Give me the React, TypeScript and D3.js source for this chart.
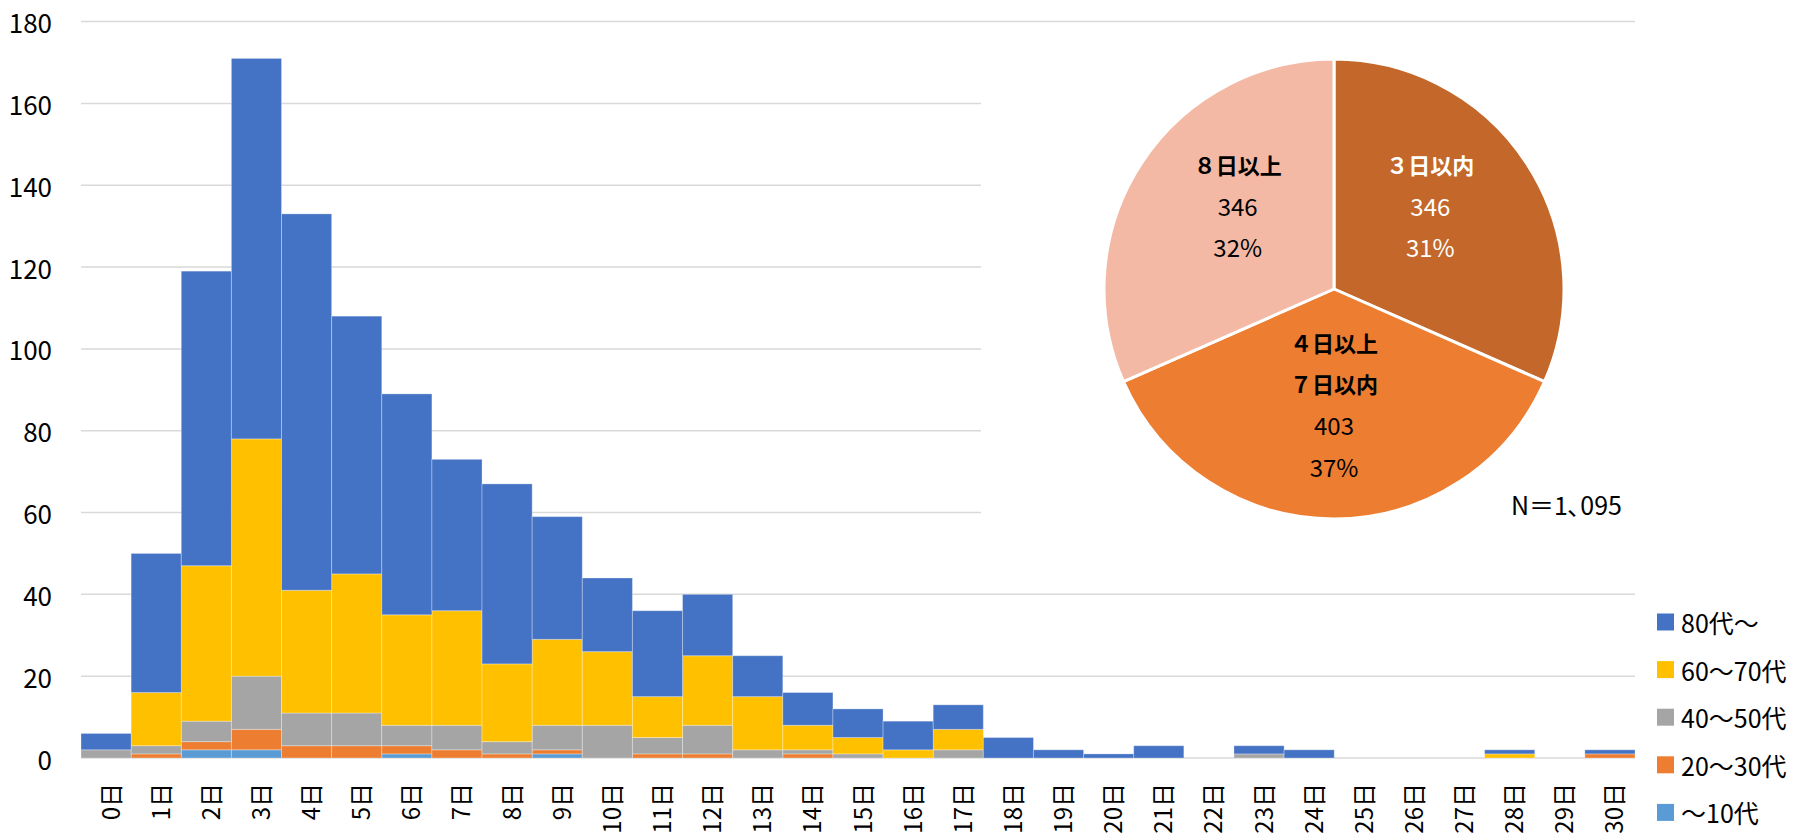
import React from "react";
import * as d3 from "d3";

const days = ["0日","1日","2日","3日","4日","5日","6日","7日","8日","9日","10日","11日","12日","13日","14日","15日","16日","17日","18日","19日","20日","21日","22日","23日","24日","25日","26日","27日","28日","29日","30日"];

const under10 =  [0,0,2,2,0,0,1,0,0,1,0,0,0,0,0,0,0,0,0,0,0,0,0,0,0,0,0,0,0,0,0];
const age20_30 = [0,1,2,5,3,3,2,2,1,1,0,1,1,0,1,0,0,0,0,0,0,0,0,0,0,0,0,0,0,0,1];
const age40_50 = [2,2,5,13,8,8,5,6,3,6,8,4,7,2,1,1,0,2,0,0,0,0,0,1,0,0,0,0,0,0,0];
const age60_70 = [0,13,38,58,30,34,27,28,19,21,18,10,17,13,6,4,2,5,0,0,0,0,0,0,0,0,0,0,1,0,0];
const age80 =    [4,34,72,93,92,63,54,37,44,30,18,21,15,10,8,7,7,6,5,2,1,3,0,2,2,0,0,0,1,0,1];

const seriesNames = ["～10代", "20～30代", "40～50代", "60～70代", "80代～"];
const seriesColors = ["#5B9BD5", "#ED7D31", "#A5A5A5", "#FFC000", "#4472C4"];
const seriesValues = [under10, age20_30, age40_50, age60_70, age80];

const yTicks = [0, 20, 40, 60, 80, 100, 120, 140, 160, 180];

const pieLabels = [["３日以内"], ["４日以上", "７日以内"], ["８日以上"]];
const pieValues = [346, 403, 346];
const piePercents = ["31%", "37%", "32%"];
const pieColors = ["#C4672B", "#ED7D31", "#F4B9A5"];
const pieTextColors = ["#FFFFFF", "#000000", "#000000"];
const totalLabel = "N＝1､095";

const W = 1814, H = 835;
const FONT = "'Noto Sans CJK JP', 'Noto Sans', sans-serif";

export default function App() {
  const x = d3.scaleBand<string>().domain(days).range([81, 1635]).padding(0);
  const y = d3.scaleLinear().domain([0, 180]).range([758, 21.6]);

  const rows = days.map((d, i) => {
    const r: any = { day: d };
    seriesNames.forEach((s, k) => (r[s] = seriesValues[k][i]));
    return r;
  });
  const stacked = d3.stack<any>().keys(seriesNames)(rows);

  const pieCx = 1334, pieCy = 289, R = 230;
  const pie = d3.pie<number>().sort(null).value((v) => v);
  const arcs = pie(pieValues);
  const arcGen = d3.arc<d3.PieArcDatum<number>>().innerRadius(0).outerRadius(R);
  const labelArc = d3.arc<d3.PieArcDatum<number>>().innerRadius(0).outerRadius(R);

  const lineH = 41.5;

  return (
    <svg width={W} height={H} style={{ position: "absolute", left: 0, top: 0, background: "#fff" }} fontFamily={FONT}>
      {yTicks.map((t) => (
        <line key={t} x1={x.range()[0]} x2={x.range()[1]} y1={y(t)} y2={y(t)} stroke="#D9D9D9" strokeWidth={1.5} />
      ))}
      {yTicks.map((t) => (
        <text key={"yt" + t} x={52} y={y(t)} textAnchor="end" dominantBaseline="central" fontSize={26} fill="#000">
          {t}
        </text>
      ))}
      {stacked.map((layer, k) => (
        <g key={layer.key} fill={seriesColors[k]}>
          {layer.map((seg, i) =>
            seg[1] - seg[0] > 0 ? (
              <rect
                key={i}
                x={x(days[i])}
                width={x.bandwidth()}
                y={y(seg[1])}
                height={y(seg[0]) - y(seg[1])}
                stroke="rgba(255,255,255,0.3)"
                strokeWidth={1}
              />
            ) : null
          )}
        </g>
      ))}
      {days.map((d) => {
        const cx = (x(d) as number) + x.bandwidth() / 2 + 3;
        return (
          <text
            key={"xl" + d}
            transform={`translate(${cx},783) rotate(-90)`}
            textAnchor="end"
            dominantBaseline="central"
            fontSize={24}
            fill="#000"
          >
            {d}
          </text>
        );
      })}
      <rect x={981} y={30} width={660} height={552} fill="#fff" />
      <g transform={`translate(${pieCx},${pieCy})`}>
        {arcs.map((a, i) => (
          <path key={i} d={arcGen(a) || ""} fill={pieColors[i]} stroke="#fff" strokeWidth={3} strokeLinejoin="round" />
        ))}
        {arcs.map((a, i) => {
          const [lx, ly] = labelArc.centroid(a);
          const lines = [...pieLabels[i], String(pieValues[i]), piePercents[i]];
          const top = ly - 1.5 * lineH;
          return (
            <g key={"pl" + i} fill={pieTextColors[i]}>
              {lines.map((ln, j) => (
                <text
                  key={j}
                  x={lx}
                  y={top + j * lineH}
                  textAnchor="middle"
                  dominantBaseline="central"
                  fontSize={j < pieLabels[i].length ? 22 : 24}
                  fontWeight={j < pieLabels[i].length ? 700 : 400}
                >
                  {ln}
                </text>
              ))}
            </g>
          );
        })}
      </g>
      <text x={1622} y={504} textAnchor="end" dominantBaseline="central" fontSize={25} fill="#000">
        {totalLabel}
      </text>
      {[...seriesNames].reverse().map((s, j) => {
        const k = seriesNames.length - 1 - j;
        const cy = 622 + j * 47.6;
        return (
          <g key={"lg" + s}>
            <rect x={1657} y={cy - 8.5} width={17} height={17} fill={seriesColors[k]} />
            <text x={1681} y={cy} dominantBaseline="central" fontSize={25} fill="#000">
              {s}
            </text>
          </g>
        );
      })}
    </svg>
  );
}
